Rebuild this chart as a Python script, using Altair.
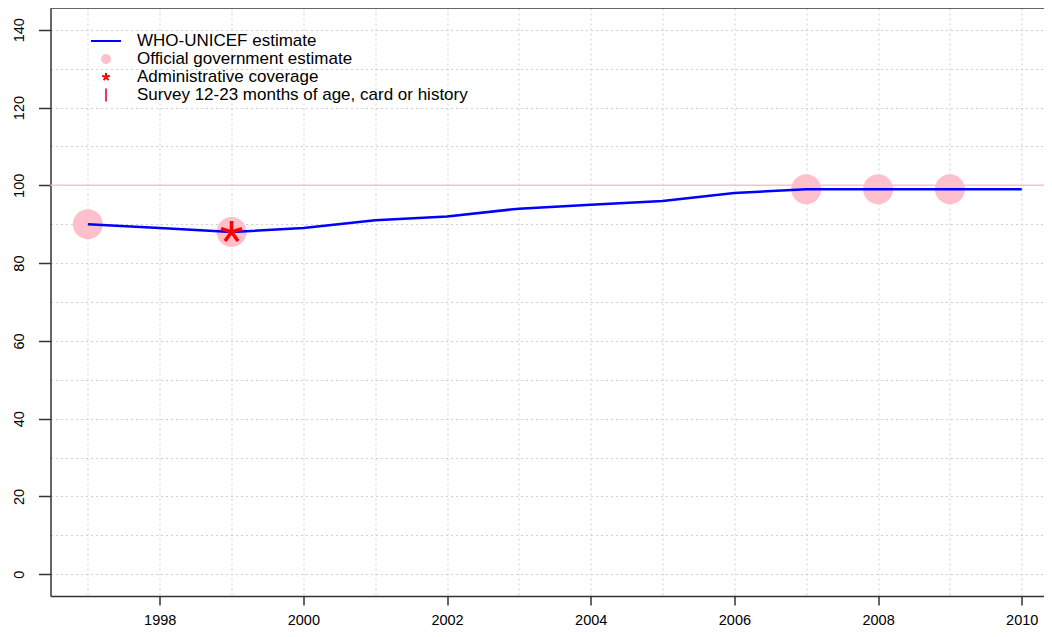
import altair as alt
import pandas as pd

# ---- data ----
years = list(range(1997, 2011))
who_unicef = [90, 89, 88, 89, 91, 92, 94, 95, 96, 98, 99, 99, 99, 99]
official_years = [1997, 1999, 2007, 2008, 2009]
official_values = [90, 88, 99, 99, 99]
admin_years = [1999]
admin_values = [88]
target_line = [100]
series_names = [
    "WHO-UNICEF estimate",
    "Official government estimate",
    "Administrative coverage",
    "Survey 12-23 months of age, card or history",
]
series_colors = ["#0000FF", "#FFC0CB", "#FF0000", "#EE3366"]
x_grid_values = list(range(1997, 2011))
y_grid_values = list(range(0, 150, 10))
x_domain = [1996.48, 2010.31]
y_domain = [-5.6, 145.6]

# symbol paths (legend symbols share one symbol size)
LINE_PATH = "M-1.667,0L1.667,0"
DOT_PATH = "M-0.444,0A0.444,0.444 0 1,1 0.444,0A0.444,0.444 0 1,1 -0.444,0Z"
STAR_PATH = ("M0,0L0,-0.444M0,0L0.422,-0.138M0,0L-0.422,-0.138"
             "M0,0L0.262,0.36M0,0L-0.262,0.36")
BAR_PATH = "M0,-0.72L0,0.72"
series_shapes = [LINE_PATH, DOT_PATH, STAR_PATH, BAR_PATH]

FONT = "Liberation Sans"

line_df = pd.DataFrame({"year": years, "value": who_unicef})
off_df = pd.DataFrame({"year": official_years, "value": official_values,
                       "series": [series_names[1]] * len(official_years)})
adm_df = pd.DataFrame({"year": admin_years, "value": admin_values})
tgt_df = pd.DataFrame({"value": target_line})
frame_df = pd.DataFrame({"value": [y_domain[1]]})

x_scale = alt.Scale(domain=x_domain, nice=False, zero=False)
y_scale = alt.Scale(domain=y_domain, nice=False, zero=False)

x_axis = alt.Axis(
    values=x_grid_values, title=None, grid=True, gridDash=[2, 3],
    gridColor="#cfcfcf", gridWidth=1,
    labelExpr="datum.value % 2 === 0 ? datum.label : ''",
    tickOpacity={"condition": {"test": "datum.value % 2 === 0", "value": 1}, "value": 0},
    tickSize=9, tickColor="#333333", tickWidth=1.5,
    domainColor="#333333", domainWidth=1.5,
    labelFont=FONT, labelFontSize=14.5, labelColor="#000000",
    labelPadding=8, format="d", labelFlush=False, labelOverlap=False,
)
y_axis = alt.Axis(
    values=y_grid_values, title=None, grid=True, gridDash=[2, 3],
    gridColor="#cfcfcf", gridWidth=1,
    labelExpr="datum.value % 20 === 0 ? datum.label : ''",
    tickOpacity={"condition": {"test": "datum.value % 20 === 0", "value": 1}, "value": 0},
    tickSize=12, tickColor="#333333", tickWidth=1.5,
    domainColor="#333333", domainWidth=1.5,
    labelFont=FONT, labelFontSize=14.5, labelColor="#000000",
    labelAngle=270, labelAlign="center", labelBaseline="bottom",
    labelPadding=12, labelFlush=False, labelOverlap=False,
)

frame_top = alt.Chart(frame_df).mark_rule(color="#333333", strokeWidth=1.5).encode(
    y=alt.Y("value:Q", scale=y_scale, axis=y_axis)
)

target = alt.Chart(tgt_df).mark_rule(color="#FFC0CB", strokeWidth=1.5).encode(
    y=alt.Y("value:Q", scale=y_scale)
)

line = alt.Chart(line_df).mark_line(color="#0000FF", strokeWidth=2.5).encode(
    x=alt.X("year:Q", scale=x_scale, axis=x_axis),
    y=alt.Y("value:Q", scale=y_scale),
)

legend = alt.Legend(
    title=None, orient="none", legendX=45.5, legendY=23,
    labelFont=FONT, labelFontSize=17, labelColor="#000000", labelLimit=800,
    symbolSize=324, symbolStrokeWidth=2, labelOffset=21,
    rowPadding=-2, padding=0, symbolOpacity=1,
)

official = alt.Chart(off_df).mark_point(filled=True, size=4556, opacity=1, strokeWidth=0).encode(
    x=alt.X("year:Q", scale=x_scale),
    y=alt.Y("value:Q", scale=y_scale),
    fill=alt.Fill("series:N", scale=alt.Scale(domain=series_names, range=series_colors), legend=legend),
    stroke=alt.Stroke("series:N", scale=alt.Scale(domain=series_names, range=series_colors), legend=legend),
    shape=alt.Shape("series:N", scale=alt.Scale(domain=series_names, range=series_shapes), legend=legend),
)

admin = alt.Chart(adm_df).mark_point(
    shape=STAR_PATH, size=2460, stroke="#FF0000", strokeWidth=3.5, filled=False, opacity=1
).encode(
    x=alt.X("year:Q", scale=x_scale),
    y=alt.Y("value:Q", scale=y_scale),
)

chart = alt.layer(frame_top, target, official, line, admin).properties(
    width=993.5, height=588, background="white",
    autosize=alt.AutoSizeParams(type="none"),
    padding={"left": 42.5, "top": 0, "right": 0, "bottom": 32},
).configure_view(stroke=None)

chart.save("out.html", embed_options={"renderer": "svg", "actions": False})
